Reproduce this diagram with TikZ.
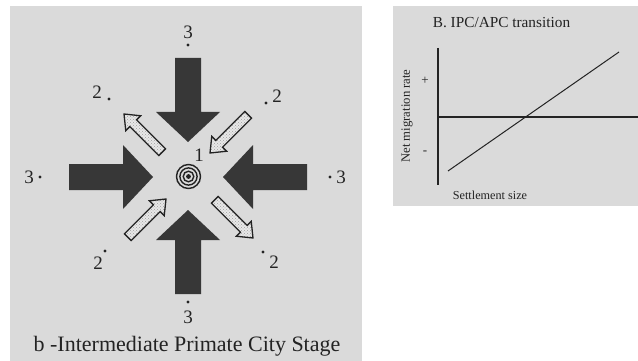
\documentclass[tikz,border=0pt]{standalone}
\usepackage{fontspec}
\setmainfont{Liberation Serif}
\usetikzlibrary{patterns}
\definecolor{panelgray}{RGB}{218,218,218}
\definecolor{darkarrow}{RGB}{55,55,55}
\definecolor{inkcol}{RGB}{35,35,35}
\tikzset{
  panel/.style={fill=panelgray, draw=none},
  bigarrow/.pic={\fill[darkarrow] (0,0) -- (-30,-32) -- (-30,-13) -- (-84,-13) -- (-84,13) -- (-30,13) -- (-30,32) -- cycle;},
  smallarrow/.pic={\draw[draw=inkcol, line width=1.3pt, line join=miter,
      preaction={fill=gray!18}, pattern=crosshatch dots, pattern color=gray!75]
      (0,0) -- (-13,-10.5) -- (-13,-4.8) -- (-54,-4.8) -- (-54,4.8) -- (-13,4.8) -- (-13,10.5) -- cycle;},
  num/.style={font=\fontsize{19}{19}\selectfont, text=inkcol, inner sep=0pt},
  spot/.style={circle, fill=inkcol, inner sep=0pt, minimum size=3.4pt},
  ring/.style={draw=inkcol, line width=1.4pt},
  axis/.style={draw=inkcol, line width=1.1pt},
}
\begin{document}
\begin{tikzpicture}[x=1pt,y=-1pt]
\useasboundingbox (0,0) rectangle (638,361);
\fill[white] (0,0) rectangle (638,361);
% panels
\path[panel] (10,6) rectangle (362,361);
\path[panel] (393,6) rectangle (638,206);

% ----- left panel -----
\path (153,177) pic (aW) {bigarrow};
\path (223,177) pic[rotate=180] (aE) {bigarrow};
\path (188,142) pic[rotate=-90] (aN) {bigarrow};
\path (188,210) pic[rotate=90] (aS) {bigarrow};

\path (124,114) pic[rotate=135] (dNW) {smallarrow};
\path (210,153) pic[rotate=-135] (dNE) {smallarrow};
\path (166,199) pic[rotate=45] (dSW) {smallarrow};
\path (253,238) pic[rotate=-45] (dSE) {smallarrow};

% target
\coordinate (ctr) at (188.5,176.5);
\draw[ring] (ctr) circle[radius=12];
\draw[ring] (ctr) circle[radius=8.6];
\draw[ring] (ctr) circle[radius=5.3];
\fill[inkcol] (ctr) circle[radius=2.4];
\node[num] (n1) at (199,155) {1};

% place labels
\node[num] (tN) at (188,32) {3};
\node[spot] (sN) at (188,45) {};
\node[num] (tNW) at (97,92) {2};
\node[spot] (sNW) at (109,99) {};
\node[spot] (sNE) at (266,103) {};
\node[num] (tNE) at (277,96) {2};
\node[num] (tW) at (29,177) {3};
\node[spot] (sW) at (40,177) {};
\node[spot] (sE) at (330,177) {};
\node[num] (tE) at (341,177) {3};
\node[num] (tSW) at (98,263) {2};
\node[spot] (sSW) at (105,251) {};
\node[spot] (sSE) at (263,252) {};
\node[num] (tSE) at (274,262) {2};
\node[spot] (sS) at (188,302) {};
\node[num] (tS) at (188,317) {3};

\node[font=\fontsize{22}{22}\selectfont, text=inkcol, inner sep=0pt] (cap) at (187,346) {b -Intermediate Primate City Stage};

% ----- right panel -----
\node[font=\fontsize{15.3}{15.3}\selectfont, text=inkcol, inner sep=0pt] (title) at (501.5,23) {B. IPC/APC transition};
\coordinate (yTop) at (438,48);
\coordinate (yBot) at (438,185);
\coordinate (xL) at (438,117);
\coordinate (xR) at (638,117);
\coordinate (lnA) at (448,171);
\coordinate (lnB) at (619,52);
\draw[axis] (yTop) -- (yBot);
\draw[axis] (xL) -- (xR);
\draw[axis, line width=1pt] (lnA) -- (lnB);
\node[font=\fontsize{13}{13}\selectfont, text=inkcol, inner sep=0pt] (plus) at (425,81) {+};
\node[font=\fontsize{13}{13}\selectfont, text=inkcol, inner sep=0pt] (minus) at (425,153) {-};
\node[font=\fontsize{12.7}{12.7}\selectfont, text=inkcol, inner sep=0pt, rotate=90] (ylab) at (407,116) {Net migration rate};
\node[font=\fontsize{12.2}{12.2}\selectfont, text=inkcol, inner sep=0pt] (xlab) at (490,195) {Settlement size};
\end{tikzpicture}
\end{document}
